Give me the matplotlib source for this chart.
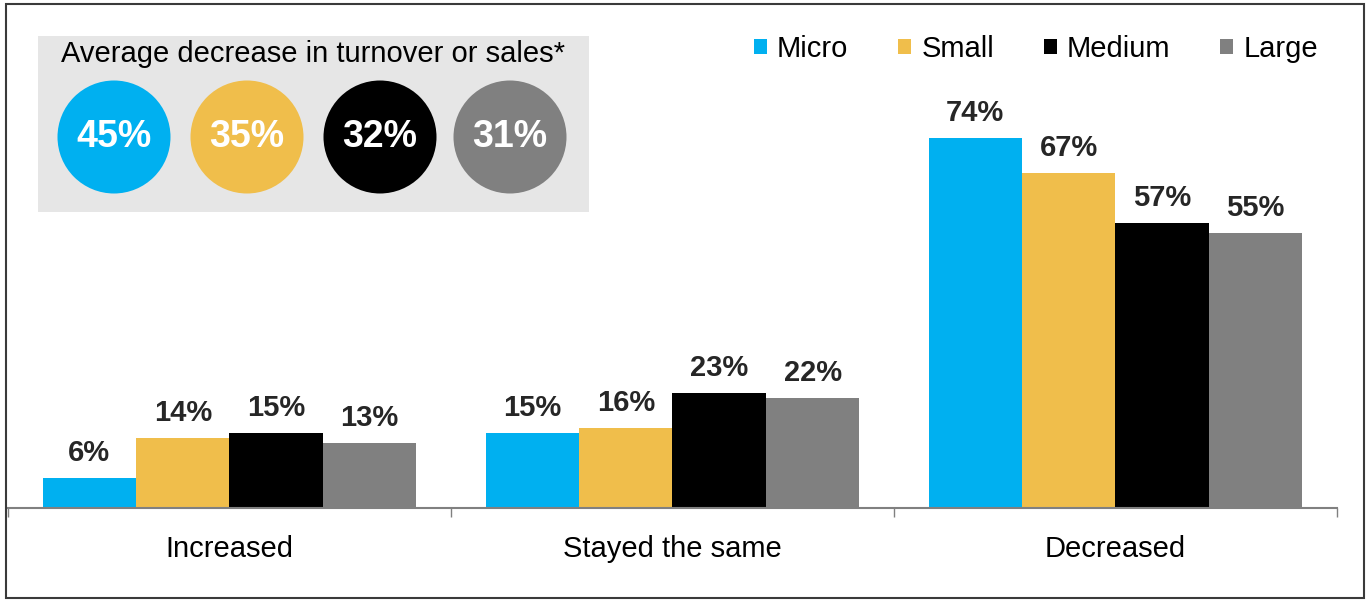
import matplotlib.pyplot as plt
import matplotlib.patches as mpatches
import numpy as np

plt.rcParams["font.family"] = ["Liberation Sans", "DejaVu Sans"]

# categories, firm size groups and shares (%)
categories = ["Increased", "Stayed the same", "Decreased"]
sizes = ["Micro", "Small", "Medium", "Large"]
micro = [6, 15, 74]
small = [14, 16, 67]
medium = [15, 23, 57]
large = [13, 22, 55]
avg_decrease = [45, 35, 32, 31]

colors = ["#00B0F0", "#F0BE4B", "#000000", "#808080"]

W, H = 1370, 601
f = plt.figure(figsize=(W / 100, H / 100), dpi=100)

# outer frame around the whole chart
f.patches.append(
    mpatches.Rectangle(
        (6 / W, 3 / H), 1358 / W, 594 / H, transform=f.transFigure,
        fill=False, edgecolor="#3a3a3a", lw=1.5, zorder=0,
    )
)

ax = f.add_axes([8 / W, 1 - 508 / H, 1329 / W, 500 / H])
ax.set_xlim(-0.5, 2.5)
ax.set_ylim(0, 100)

x = np.arange(len(categories))
bw = 0.211
series = [micro, small, medium, large]
for i, (vals, name) in enumerate(zip(series, sizes)):
    pos = x + (i - 1.5) * bw
    ax.bar(pos, vals, width=bw, color=colors[i], label=name, zorder=2)
    for xp, v in zip(pos, vals):
        ax.annotate(
            "{}%".format(v), (xp, v), xytext=(0, 12.5), textcoords="offset points",
            ha="center", va="baseline", fontsize=21, fontweight="bold", color="#262626",
        )

# only the bottom axis line with ticks between categories
for s in ["top", "left", "right"]:
    ax.spines[s].set_visible(False)
ax.spines["bottom"].set_color("#808080")
ax.spines["bottom"].set_linewidth(1.5)
ax.set_yticks([])
ax.set_xticks([-0.5, 0.5, 1.5, 2.5])
ax.set_xticklabels([])
ax.tick_params(axis="x", direction="out", length=6.5, width=1, color="#808080")
for xi, c in zip(x, categories):
    ax.text(xi, -8.2, c, ha="center", va="center", fontsize=21,
            transform=ax.transData, clip_on=False)

ax.legend(
    loc="upper right", bbox_to_anchor=(1318 / W, 1 - 35 / H), bbox_transform=f.transFigure,
    ncol=4, frameon=False, fontsize=21, handlelength=0.45, handleheight=0.45,
    handletextpad=0.35, columnspacing=1.7, borderpad=0, borderaxespad=0,
)

# inset: average decrease in turnover by size
f.patches.append(
    mpatches.Rectangle(
        (38 / W, 1 - 212 / H), 551 / W, 176 / H, transform=f.transFigure,
        facecolor="#E6E6E6", edgecolor="none", zorder=1,
    )
)
f.text(313 / W, 1 - 54 / H, "Average decrease in turnover or sales*",
       ha="center", va="center", fontsize=21, zorder=3)
centers = [114, 247, 380, 510]
for cx, v, col in zip(centers, avg_decrease, colors):
    f.patches.append(
        mpatches.Ellipse(
            (cx / W, 1 - 137 / H), 113 / W, 113 / H, transform=f.transFigure,
            facecolor=col, edgecolor="none", zorder=2,
        )
    )
    f.text(cx / W, 1 - 137 / H, "{}%".format(v), ha="center", va="center",
           fontsize=27, fontweight="bold", color="white", zorder=3)

plt.savefig("out.png", dpi=100)
plt.close()
